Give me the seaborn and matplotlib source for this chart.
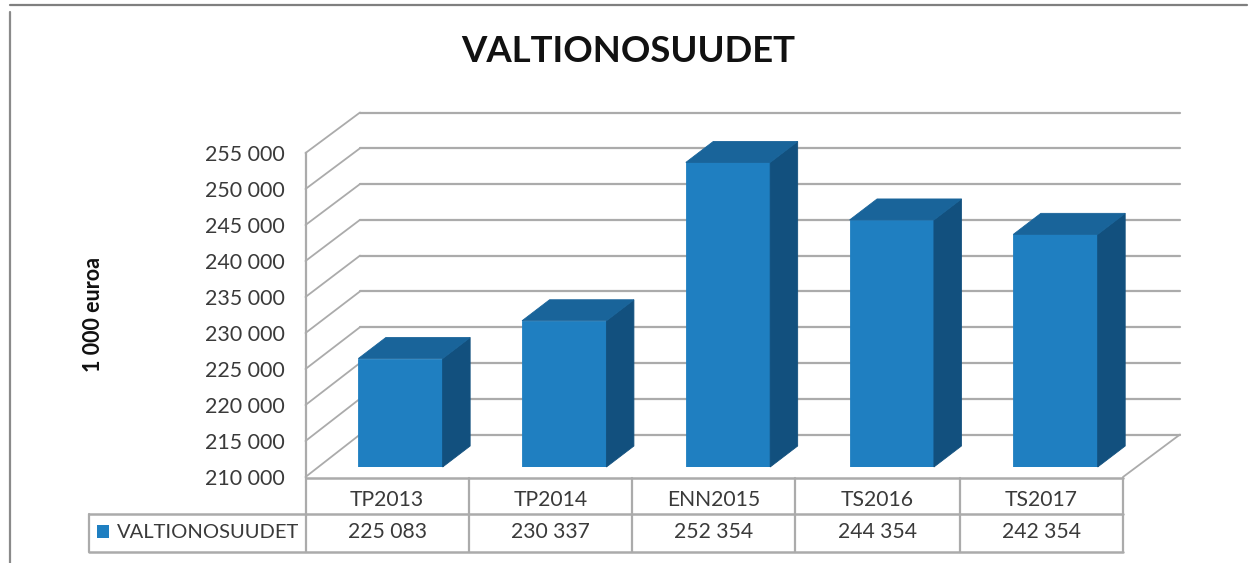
import numpy as np
import pandas as pd
import matplotlib
matplotlib.use("Agg")
import matplotlib.pyplot as plt
from matplotlib.patches import Polygon, Rectangle
from matplotlib.transforms import IdentityTransform
from matplotlib.ticker import FuncFormatter
import seaborn as sns

years = ["TP2013", "TP2014", "ENN2015", "TS2016", "TS2017"]
values = [225083, 230337, 252354, 244354, 242354]
series_name = "VALTIONOSUUDET"
y_ticks = [210000, 215000, 220000, 225000, 230000, 235000, 240000, 245000, 250000, 255000]

W, H = 1254, 563
GRID = "#ababab"
TEXT = "#3a3a3a"
FRONT = "#1f7fc1"
TOP = "#19649a"
SIDE = "#12507e"

sns.set_theme(style="white")
plt.rcParams["font.family"] = ["Lato", "DejaVu Sans"]


def spaced(v, pos=None):
    return f"{int(v):,}".replace(",", " ")


def add_axes_px(fig, left, top, right, bottom):
    return fig.add_axes([left / W, 1 - bottom / H, (right - left) / W, (bottom - top) / H])


fig = plt.figure(figsize=(W / 100, H / 100), dpi=100, facecolor="white")

# back wall gridlines
ax_back = add_axes_px(fig, 360, 112.5, 1180, 434.5)
ax_back.set_xlim(0, 1)
ax_back.set_ylim(y_ticks[0], y_ticks[-1])
ax_back.set_yticks(y_ticks)
ax_back.set_xticks([])
ax_back.set_yticklabels([])
ax_back.tick_params(left=False)
ax_back.grid(axis="y", color=GRID, lw=1.6)
for line in ax_back.get_ygridlines():
    line.set_clip_on(False)
ax_back.patch.set_alpha(0)
sns.despine(ax=ax_back, left=True, bottom=True, top=True, right=True)

# front axis with the tick labels
ax_front = add_axes_px(fig, 305.5, 153, 306, 477)
ax_front.set_ylim(y_ticks[0], y_ticks[-1])
ax_front.set_yticks(y_ticks)
ax_front.yaxis.set_major_formatter(FuncFormatter(spaced))
ax_front.tick_params(axis="y", left=False, pad=9, labelsize=15.4, labelcolor=TEXT)
ax_front.set_xticks([])
ax_front.patch.set_alpha(0)
sns.despine(ax=ax_front, bottom=True, right=True)
ax_front.spines["left"].set_color(GRID)
ax_front.spines["left"].set_linewidth(1.6)

# pixel overlay for frame, diagonals and data table
ov = fig.add_axes([0, 0, 1, 1])
ov.set_xlim(0, W)
ov.set_ylim(H, 0)
ov.axis("off")
ov.patch.set_alpha(0)

ov.plot([10, 10], [12, H], color="#8a8a8a", lw=1.6)
ov.plot([10, 1247], [5, 5], color="#7f7f7f", lw=1.6)

ov.text(628, 52, series_name, ha="center", va="center", fontsize=26.3, fontweight="bold", color="#111111")
ov.text(93, 314, "1 000 euroa", rotation=90, ha="center", va="center", fontsize=15.5, fontweight="bold", color="#111111")

for i in range(len(y_ticks)):
    frac = i / (len(y_ticks) - 1)
    y0 = 477 - frac * 324
    y1 = 434.5 - frac * 322
    ov.plot([305.5, 360], [y0, y1], color=GRID, lw=1.3)
ov.plot([1123, 1180], [477, 434.5], color=GRID, lw=1.3)

cell_x = [305.5, 468.5, 632, 795, 960, 1123]
for y in [477.5, 514, 551.5]:
    ov.plot([cell_x[0] if y == 477.5 else 89, cell_x[-1]], [y, y], color=GRID, lw=1.8)
ov.plot([89, 89], [514, 551.5], color=GRID, lw=1.6)
for x in cell_x:
    ov.plot([x, x], [477.5, 551.5], color=GRID, lw=1.6)
for i in range(len(years)):
    cx = (cell_x[i] + cell_x[i + 1]) / 2
    ov.text(cx, 500, years[i], ha="center", va="center", fontsize=15.2, color=TEXT)
    ov.text(cx, 532.5, spaced(values[i]), ha="center", va="center", fontsize=15.2, color=TEXT)
ov.add_patch(Rectangle((97, 525), 12, 13, color=FRONT, lw=0))
ov.text(117, 532.5, series_name, ha="left", va="center", fontsize=14.5, color=TEXT)

# bars
ax = add_axes_px(fig, 318.6, 143.4, 1137.4, 467)
df = pd.DataFrame({"year": years, "value": values})
sns.barplot(data=df, x="year", y="value", color=FRONT, saturation=1, width=0.515, ax=ax)
ax.set_ylim(y_ticks[0], y_ticks[-1])
ax.set_xlim(-0.5, len(years) - 0.5)
ax.axis("off")
ax.patch.set_alpha(0)

# depth faces of each bar
dx, dy = 27.5, 21
for bar in ax.patches:
    bar.set_edgecolor(FRONT)
    bar.set_linewidth(0.6)
    bar.set_zorder(5)
    x0 = bar.get_x()
    x1 = x0 + bar.get_width()
    top = bar.get_height()
    (xa, ya), (xb, yb), (_, yc) = ax.transData.transform([(x0, top), (x1, top), (x1, y_ticks[0])])
    fig.add_artist(Polygon([(xb, yb), (xb + dx, yb + dy), (xb + dx, yc + dy), (xb, yc)],
                           closed=True, facecolor=SIDE, edgecolor=SIDE, lw=0.6, transform=IdentityTransform()))
    fig.add_artist(Polygon([(xa, ya), (xa + dx, ya + dy), (xb + dx, yb + dy), (xb, yb)],
                           closed=True, facecolor=TOP, edgecolor=TOP, lw=0.6, transform=IdentityTransform()))

fig.savefig("out.png", dpi=100)
